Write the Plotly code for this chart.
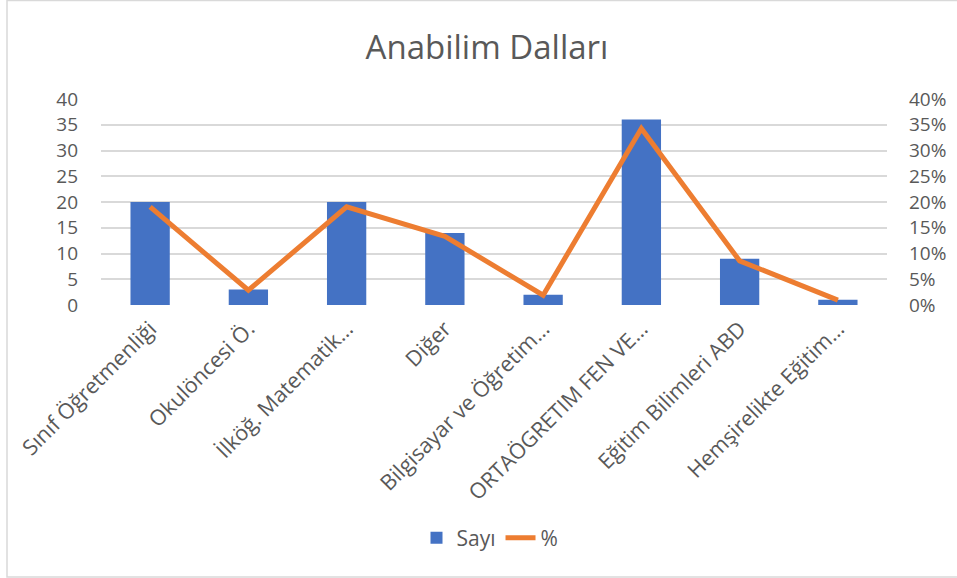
import plotly.graph_objects as go

categories = ["Sınıf Öğretmenliği", "Okulöncesi Ö.", "İlköğ. Matematik…", "Diğer",
              "Bilgisayar ve Öğretim…", "ORTAÖGRETIM FEN VE…", "Eğitim Bilimleri ABD",
              "Hemşirelikte Eğitim…"]
sayi = [20, 3, 20, 14, 2, 36, 9, 1]
yuzde = [0.1905, 0.0286, 0.1905, 0.1333, 0.0190, 0.3429, 0.0857, 0.0095]
left_ticks = [0, 5, 10, 15, 20, 25, 30, 35, 40]
right_ticks = [0, 0.05, 0.10, 0.15, 0.20, 0.25, 0.30, 0.35, 0.40]

TXT = "#595959"
FONT = "Open Sans"

fig = go.Figure()
fig.add_trace(go.Bar(x=categories, y=sayi, name="Sayı", marker_color="#4472C4",
                     marker_line_width=0))
fig.add_trace(go.Scatter(x=categories, y=yuzde, name="%", yaxis="y2", mode="lines",
                         line=dict(color="#ED7D31", width=5)))

W, H = 957, 578
ml, mr, mt, mb = 101, 70, 99, 273
pw, ph = W - ml - mr, H - mt - mb

def px(x):
    return (x - ml) / pw

def py(y):
    return (H - mb - y) / ph

fig.update_layout(
    width=W, height=H,
    margin=dict(l=ml, r=mr, t=mt, b=mb, autoexpand=False),
    paper_bgcolor="white", plot_bgcolor="white",
    font=dict(family=FONT, color=TXT, size=20),
    title=dict(text="Anabilim Dalları", x=487 / W, xanchor="center", xref="container",
               y=1 - 47 / H, yanchor="middle", yref="container",
               font=dict(size=33, color=TXT, family=FONT)),
    bargap=0.6,
    showlegend=True,
    legend=dict(orientation="h", x=px(490), xanchor="center", y=py(538), yanchor="middle",
                font=dict(size=21, color=TXT)),
    xaxis=dict(tickangle=-45, showgrid=False, showline=False, ticks="",
               tickfont=dict(size=21.5, color=TXT), ticklabelstandoff=6),
    yaxis=dict(range=[0, 40], tickvals=left_ticks, showgrid=True, gridcolor="#D9D9D9",
               gridwidth=1.5, zeroline=False, showline=False, ticks="",
               ticklabelstandoff=22, tickfont=dict(size=19, color=TXT)),
    yaxis2=dict(range=[0, 0.4], tickvals=right_ticks, tickformat=".0%", overlaying="y",
                side="right", showgrid=False, zeroline=False, showline=False, ticks="",
                ticklabelstandoff=21, tickfont=dict(size=19, color=TXT)),
    shapes=[dict(type="rect", xref="paper", yref="paper",
                 x0=px(7), x1=px(962), y0=py(577), y1=py(0.5),
                 line=dict(color="#D9D9D9", width=1.5), fillcolor="rgba(0,0,0,0)",
                 layer="below")],
)

fig.write_html("out.html", config={"displayModeBar": False},
               post_script="document.body.style.margin='0';document.body.style.padding='0';")
